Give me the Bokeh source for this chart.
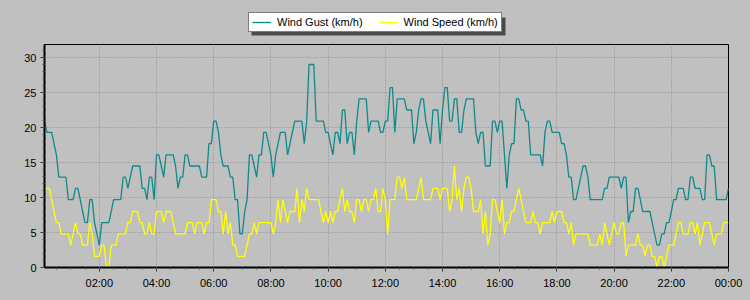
from datetime import datetime, timedelta
from bokeh.plotting import figure
from bokeh.layouts import column
from bokeh.models import (Range1d, FixedTicker, SingleIntervalTicker, DatetimeTickFormatter,
                          Legend, LegendItem, ColumnDataSource)
from bokeh.embed import file_html
from bokeh.resources import INLINE

# Readings every 5 minutes, 00:05 .. 24:00, recorded in whole mph (shown in km/h)
gust_mph = [
    13, 12, 12, 12, 11, 10, 8, 8, 8, 8, 6, 6,
    6, 7, 7, 6, 5, 4, 4, 6, 6, 4, 3, 2,
    4, 4, 4, 4, 5, 6, 6, 6, 6, 8, 8, 7,
    8, 9, 9, 9, 9, 7, 7, 6, 8, 8, 6, 10,
    10, 9, 8, 10, 10, 10, 10, 9, 7, 8, 8, 10,
    10, 9, 9, 9, 9, 9, 8, 8, 8, 11, 11, 13,
    13, 12, 10, 9, 9, 9, 8, 8, 6, 6, 3, 3,
    5, 6, 10, 10, 9, 8, 10, 10, 12, 12, 11, 10,
    8, 10, 11, 12, 12, 12, 10, 11, 12, 13, 13, 13,
    13, 11, 13, 18, 18, 18, 13, 13, 13, 13, 12, 12,
    11, 10, 12, 12, 11, 14, 14, 11, 12, 12, 10, 13,
    15, 15, 15, 15, 12, 13, 13, 13, 13, 12, 12, 13,
    13, 16, 16, 12, 15, 15, 15, 15, 14, 14, 14, 11,
    12, 14, 15, 15, 13, 12, 11, 14, 14, 14, 11, 14,
    16, 16, 13, 13, 15, 15, 12, 12, 14, 15, 15, 15,
    15, 12, 11, 12, 12, 9, 9, 9, 13, 13, 12, 13,
    13, 10, 7, 10, 11, 11, 15, 15, 14, 14, 13, 13,
    10, 10, 10, 10, 10, 9, 12, 13, 13, 12, 12, 12,
    12, 11, 11, 10, 8, 8, 6, 6, 7, 8, 9, 9,
    8, 6, 6, 6, 6, 6, 6, 7, 7, 8, 8, 8,
    8, 8, 7, 8, 8, 4, 5, 5, 7, 7, 6, 5,
    5, 5, 5, 4, 3, 2, 2, 3, 3, 4, 4, 5,
    6, 6, 7, 7, 7, 6, 6, 8, 8, 7, 7, 7,
    6, 6, 10, 10, 9, 9, 6, 6, 6, 6, 6, 7,
]
speed_mph = [
    7, 7, 7, 6, 5, 4, 4, 3, 3, 3, 3, 2,
    3, 4, 3, 3, 2, 2, 2, 4, 3, 1, 1, 1,
    2, 2, 0, 0, 2, 2, 2, 3, 3, 3, 3, 4,
    4, 5, 5, 5, 4, 4, 3, 3, 4, 3, 3, 5,
    5, 5, 4, 5, 5, 5, 4, 3, 3, 3, 3, 3,
    4, 4, 4, 3, 4, 4, 4, 3, 4, 4, 6, 6,
    6, 5, 5, 3, 5, 3, 4, 2, 2, 1, 1, 1,
    1, 2, 3, 3, 4, 3, 4, 4, 4, 4, 4, 4,
    3, 4, 6, 4, 6, 5, 4, 5, 5, 5, 7, 4,
    6, 5, 7, 6, 6, 6, 6, 6, 5, 4, 5, 4,
    5, 4, 5, 5, 6, 7, 5, 6, 5, 5, 4, 6,
    6, 5, 6, 6, 5, 6, 6, 7, 5, 5, 7, 6,
    3, 6, 6, 6, 8, 8, 7, 8, 6, 6, 6, 6,
    6, 7, 8, 6, 6, 6, 6, 7, 7, 7, 6, 7,
    7, 7, 5, 6, 9, 6, 7, 5, 7, 8, 8, 7,
    5, 5, 5, 6, 3, 5, 2, 3, 6, 6, 5, 4,
    6, 3, 4, 4, 5, 5, 6, 7, 6, 5, 4, 4,
    4, 5, 4, 4, 3, 4, 4, 4, 4, 5, 4, 5,
    5, 5, 4, 4, 3, 4, 2, 3, 3, 3, 3, 3,
    3, 2, 2, 2, 2, 3, 2, 4, 3, 2, 3, 4,
    3, 3, 4, 4, 1, 2, 2, 2, 2, 3, 2, 2,
    1, 2, 2, 1, 1, 0, 1, 1, 0, 1, 2, 2,
    2, 3, 4, 4, 3, 3, 3, 4, 4, 3, 4, 2,
    3, 4, 4, 4, 3, 2, 3, 3, 3, 4, 4, 4,
]
series_labels = ["Wind Gust (km/h)", "Wind Speed (km/h)"]
tick_labels_hours = [2, 4, 6, 8, 10, 12, 14, 16, 18, 20, 22, 24]

KMH_PER_MPH = 1.609344
gust = [round(v * KMH_PER_MPH, 1) for v in gust_mph]
speed = [round(v * KMH_PER_MPH, 1) for v in speed_mph]

GUST_COLOR = "#0F8A8A"
SPEED_COLOR = "#FFFF00"
BG = "#C0C0C0"

base = datetime(2024, 1, 1)
epoch = datetime(1970, 1, 1)
def ms(dt):
    return (dt - epoch).total_seconds() * 1000.0

n = min(len(gust), len(speed))
times = [base + timedelta(minutes=5 * (k + 1)) for k in range(n)]
src = ColumnDataSource(dict(t=times, gust=gust[:n], speed=speed[:n]))

FL, FR = 44, 728   # frame left / right in page pixels (shared by both rows)

# ---- legend strip (top) ----
LEG_H = 43
lp = figure(width=750, height=LEG_H, output_backend="svg", toolbar_location=None,
            x_axis_type=None, y_axis_type=None,
            x_range=Range1d(FL, FR), y_range=Range1d(0, LEG_H),
            min_border_left=FL, min_border_right=750 - FR, min_border_top=0, min_border_bottom=0,
            background_fill_color=BG, border_fill_color=BG)
lp.outline_line_color = None
lp.grid.visible = False
# drop shadow behind the legend box (page pixel x, strip pixel y from bottom)
lp.quad(left=[251], right=[505], top=[LEG_H - 17], bottom=[LEG_H - 35],
        fill_color="#4A4A4A", line_color=None)
lg_gust = lp.line(x=[0, 1], y=[-20, -20], line_color=GUST_COLOR, line_width=1.3)
lg_speed = lp.line(x=[0, 1], y=[-20, -20], line_color=SPEED_COLOR, line_width=1.3)
legend = Legend(items=[LegendItem(label=series_labels[0], renderers=[lg_gust]),
                       LegendItem(label=series_labels[1], renderers=[lg_speed])],
                orientation="horizontal", location=(248 - FL, LEG_H - 32),
                background_fill_color="white", background_fill_alpha=1.0,
                border_line_color="black", border_line_width=1,
                label_text_font="Liberation Sans", label_text_font_size="11px",
                label_text_color="black",
                glyph_width=19, glyph_height=12, label_height=12, label_standoff=6,
                spacing=16, padding=3, margin=0)
lp.add_layout(legend, "center")

# ---- main chart ----
p = figure(width=750, height=300 - LEG_H, output_backend="svg", toolbar_location=None,
           x_axis_type="datetime",
           x_range=Range1d(ms(times[0]), ms(times[-1])),
           y_range=Range1d(0, 31.86),
           min_border_left=FL, min_border_right=750 - FR, min_border_top=44 - LEG_H,
           min_border_bottom=33,
           background_fill_color=BG, border_fill_color=BG)
p.outline_line_color = "black"
p.outline_line_width = 1

r_gust = p.line("t", "gust", source=src, line_color=GUST_COLOR, line_width=1.3)
r_speed = p.line("t", "speed", source=src, line_color=SPEED_COLOR, line_width=1.3)

major = [ms(base + timedelta(hours=h)) for h in tick_labels_hours]
minor = [ms(base + timedelta(minutes=30 * k)) for k in range(1, 49)]
p.xaxis.ticker = FixedTicker(ticks=major, minor_ticks=minor)
fmt = "%H:%M"
p.xaxis.formatter = DatetimeTickFormatter(minutes=fmt, hourmin=fmt, hours=fmt, days=fmt,
                                          months=fmt, years=fmt)
p.yaxis.ticker = SingleIntervalTicker(interval=5, num_minor_ticks=5)

for ax in (p.xaxis, p.yaxis):
    ax.axis_line_color = "black"
    ax.axis_line_width = 2
    ax.major_tick_line_color = "#303030"
    ax.minor_tick_line_color = "#505050"
    ax.major_tick_out = 4
    ax.major_tick_in = 0
    ax.minor_tick_out = 2
    ax.minor_tick_in = 0
    ax.major_label_text_font = "Liberation Sans"
    ax.major_label_text_font_size = "11px"
    ax.major_label_text_color = "black"
p.xaxis.major_label_standoff = 5
p.yaxis.major_label_standoff = 4

for g in (p.xgrid, p.ygrid):
    g.grid_line_color = "#8C8C8C"
    g.grid_line_dash = "1 2"
    g.grid_line_width = 1

layout = column(lp, p, spacing=0, styles={"background-color": BG})
open("out.html", "w").write(file_html(layout, INLINE))
